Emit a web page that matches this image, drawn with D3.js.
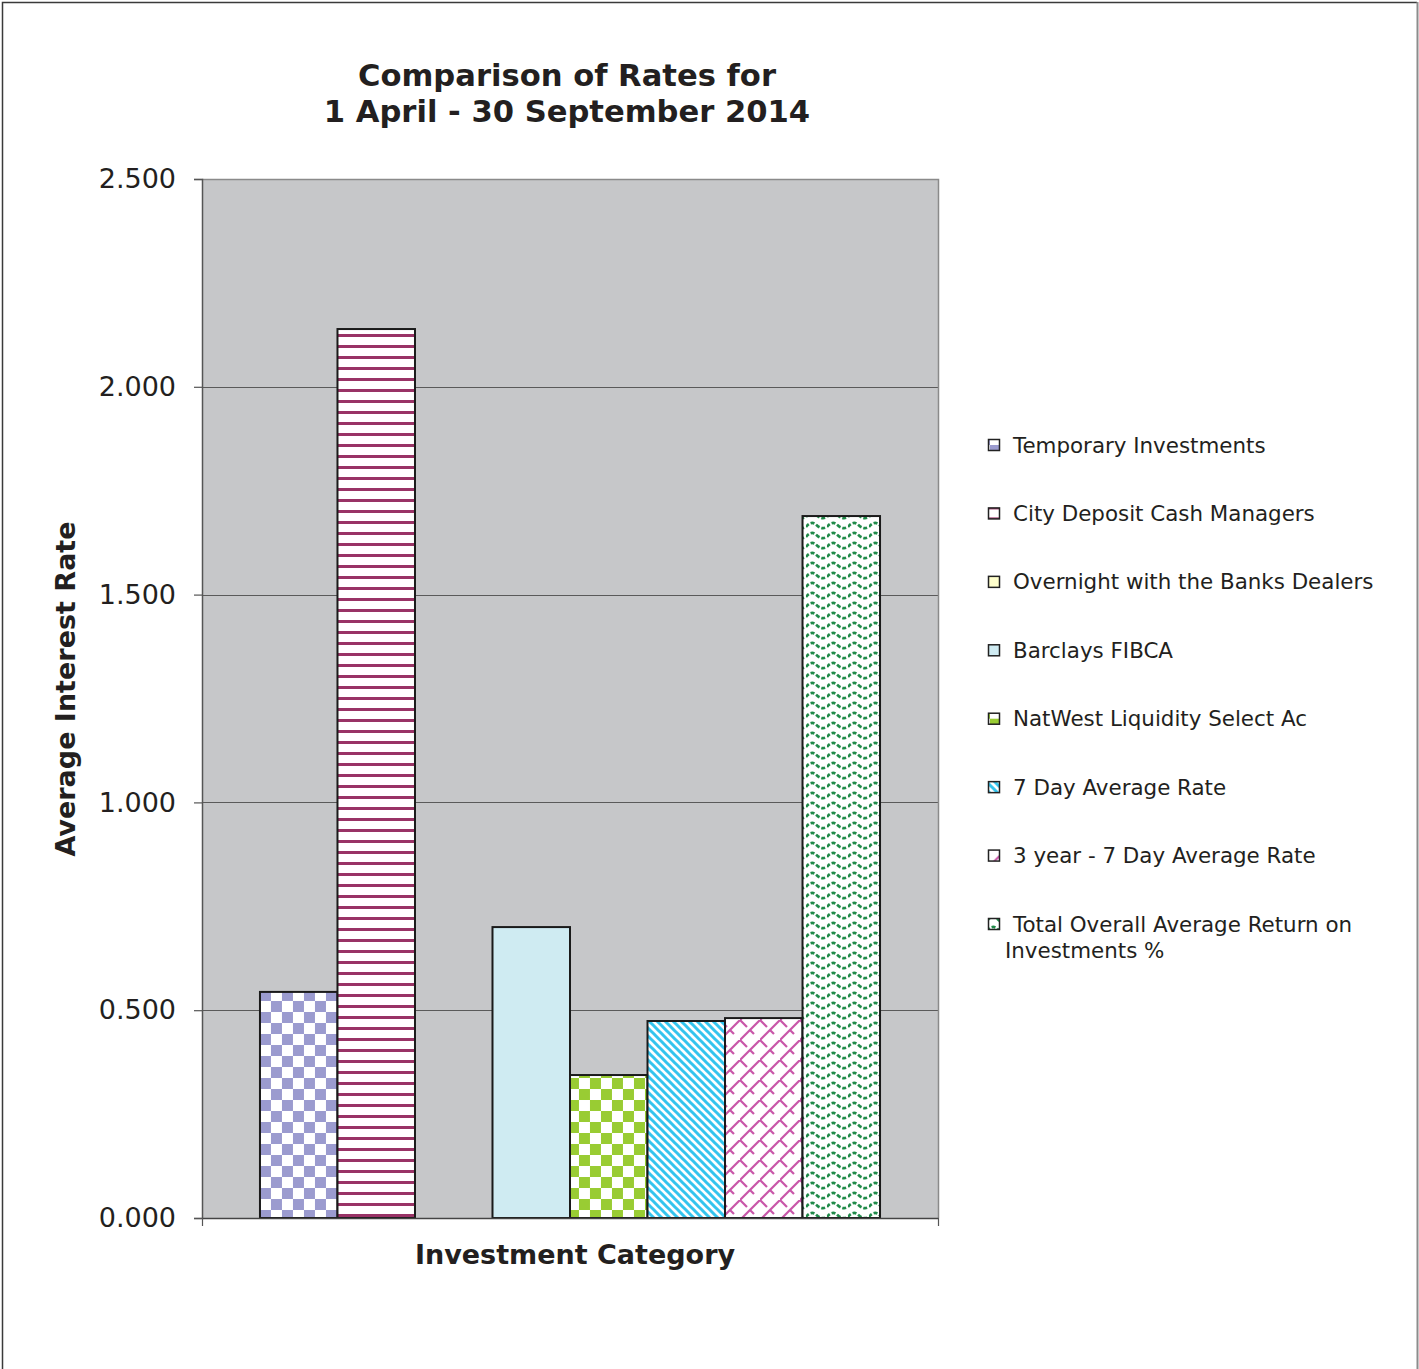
<!DOCTYPE html>
<html>
<head>
<meta charset="utf-8">
<script src="https://cdn.jsdelivr.net/npm/d3@7"></script>
<style>
  html, body { margin: 0; padding: 0; background: #fff; }
  svg { display: block; font-family: "DejaVu Sans", Verdana, sans-serif; }
</style>
</head>
<body>
<svg id="chart" width="1419" height="1369"></svg>
<script>
// Average interest rates, 1 April - 30 September 2014
const categories = [""];
const seriesNames = [
  "Temporary Investments",
  "City Deposit Cash Managers",
  "Overnight with the Banks Dealers",
  "Barclays FIBCA",
  "NatWest Liquidity Select Ac",
  "7 Day Average Rate",
  "3 year - 7 Day Average Rate",
  "Total Overall Average Return on Investments %"
];
const seriesValues = [0.544, 2.139, 0, 0.700, 0.344, 0.474, 0.481, 1.689];
const yTicks = [0, 0.5, 1.0, 1.5, 2.0, 2.5];
const legendLines = [
  ["Temporary Investments"],
  ["City Deposit Cash Managers"],
  ["Overnight with the Banks Dealers"],
  ["Barclays FIBCA"],
  ["NatWest Liquidity Select Ac"],
  ["7 Day Average Rate"],
  ["3 year - 7 Day Average Rate"],
  ["Total Overall Average Return on", "Investments %"]
];
const fills = ["url(#p-check-lav)", "url(#p-hstripe)", "#ffffcc", "#cfebf2",
               "url(#p-check-green)", "url(#p-diag)", "url(#p-shingle)", "url(#p-wave)"];

const svg = d3.select("#chart");
const defs = svg.append("defs");

// Fill patterns
function checker(id, color) {
  const p = defs.append("pattern").attr("id", id).attr("patternUnits", "userSpaceOnUse")
    .attr("width", 22).attr("height", 22);
  p.append("rect").attr("width", 22).attr("height", 22).attr("fill", "#fff");
  p.append("rect").attr("width", 11).attr("height", 11).attr("fill", color);
  p.append("rect").attr("x", 11).attr("y", 11).attr("width", 11).attr("height", 11).attr("fill", color);
}
checker("p-check-lav", "#9b9bcf");
checker("p-check-green", "#99cc33");

{
  const p = defs.append("pattern").attr("id", "p-hstripe").attr("patternUnits", "userSpaceOnUse")
    .attr("width", 11).attr("height", 11);
  p.append("rect").attr("width", 11).attr("height", 11).attr("fill", "#fff");
  p.append("rect").attr("y", 4).attr("width", 11).attr("height", 3).attr("fill", "#993366");
}
{
  const p = defs.append("pattern").attr("id", "p-diag").attr("patternUnits", "userSpaceOnUse")
    .attr("width", 8).attr("height", 8);
  p.append("rect").attr("width", 8).attr("height", 8).attr("fill", "#fff");
  p.append("path").attr("d", "M-2,-2 L10,10 M-2,6 L2,10 M6,-2 L10,2")
    .attr("stroke", "#33c4ee").attr("stroke-width", 3);
}
{
  const p = defs.append("pattern").attr("id", "p-shingle").attr("patternUnits", "userSpaceOnUse")
    .attr("width", 20).attr("height", 20);
  p.append("rect").attr("width", 20).attr("height", 20).attr("fill", "#fff");
  p.append("path").attr("d", "M-1,21 L21,-1 M0,0 L7,7 M10,10 L14,14")
    .attr("stroke", "#c855a8").attr("stroke-width", 2.2).attr("fill", "none");
}
{
  const p = defs.append("pattern").attr("id", "p-wave").attr("patternUnits", "userSpaceOnUse")
    .attr("width", 21).attr("height", 10);
  p.append("rect").attr("width", 21).attr("height", 10).attr("fill", "#fff");
  p.append("path").attr("d", "M0,7 Q5.25,0 10.5,5 T21,7")
    .attr("stroke", "#1f8a48").attr("stroke-width", 2.6).attr("fill", "none")
    .attr("stroke-dasharray", "4 2");
}

// Outer frame
svg.append("path").attr("d", "M2.5,1369 L2.5,2.5 L1417,2.5").attr("fill", "none")
  .attr("stroke", "#3a3a3a").attr("stroke-width", 1.5);
svg.append("line").attr("x1", 1417.5).attr("x2", 1417.5).attr("y1", 2).attr("y2", 1369)
  .attr("stroke", "#8c8c8c").attr("stroke-width", 2);

// Plot geometry
const plot = { left: 202, right: 938, top: 179, bottom: 1218 };

const y = d3.scaleLinear().domain([0, 2.5]).range([plot.bottom, plot.top]);
const x0 = d3.scaleBand().domain(categories).range([plot.left, plot.right])
  .paddingInner(0).paddingOuter(0.0935);
const x1 = d3.scaleBand().domain(seriesNames).range([0, x0.bandwidth()]).padding(0);

// Plot background
svg.append("rect").attr("x", plot.left).attr("y", plot.top)
  .attr("width", plot.right - plot.left).attr("height", plot.bottom - plot.top)
  .attr("fill", "#c6c7c9");

// Gridlines
svg.append("g").selectAll("line").data(yTicks.filter(d => d > 0 && d < 2.5)).join("line")
  .attr("x1", plot.left).attr("x2", plot.right)
  .attr("y1", d => Math.round(y(d)) + 0.5).attr("y2", d => Math.round(y(d)) + 0.5)
  .attr("stroke", "#5a5a5a").attr("stroke-width", 1);

// Plot border (top and right)
svg.append("path")
  .attr("d", `M${plot.left},${plot.top + 0.5} L${plot.right + 0.5},${plot.top + 0.5} L${plot.right + 0.5},${plot.bottom}`)
  .attr("fill", "none").attr("stroke", "#8a8a8a").attr("stroke-width", 1.5);

// Bars
const barG = svg.append("g").selectAll("g").data(categories).join("g")
  .attr("transform", d => `translate(${x0(d)},0)`);
barG.selectAll("rect")
  .data(() => seriesNames.map((s, i) => ({ s, v: seriesValues[i], i })).filter(d => d.v > 0))
  .join("rect")
  .attr("x", d => x1(d.s))
  .attr("y", d => y(d.v))
  .attr("width", x1.bandwidth())
  .attr("height", d => y(0) - y(d.v))
  .attr("fill", d => fills[d.i])
  .attr("stroke", "#1a1a1a").attr("stroke-width", 2);

// Y axis
const yAxis = d3.axisLeft(y).tickValues(yTicks).tickFormat(d3.format(".3f"))
  .tickSize(8).tickPadding(18);
const yg = svg.append("g").attr("transform", `translate(${plot.left},0)`).call(yAxis);
yg.select(".domain").attr("stroke", "#555").attr("stroke-width", 1.5);
yg.selectAll(".tick line").attr("stroke", "#555").attr("stroke-width", 1.2);
yg.selectAll(".tick text").attr("font-size", 27).attr("fill", "#231f20")
  .attr("font-family", "DejaVu Sans, Verdana, sans-serif");

// X axis (category boundaries only)
const xAxis = d3.axisBottom(d3.scaleLinear().domain([0, 1]).range([plot.left, plot.right]))
  .tickValues([0, 1]).tickFormat("").tickSize(8).tickSizeOuter(0);
const xg = svg.append("g").attr("transform", `translate(0,${plot.bottom})`).call(xAxis);
xg.select(".domain").attr("stroke", "#444").attr("stroke-width", 1.5);
xg.selectAll(".tick line").attr("stroke", "#555").attr("stroke-width", 1.2);

// Titles
const title = svg.append("text").attr("text-anchor", "middle").attr("font-weight", "bold")
  .attr("font-size", 30.6).attr("fill", "#231f20");
title.append("tspan").attr("x", 567).attr("y", 86).text("Comparison of Rates for");
title.append("tspan").attr("x", 567).attr("y", 122).text("1 April - 30 September 2014");

svg.append("text").attr("text-anchor", "middle").attr("font-weight", "bold")
  .attr("font-size", 27).attr("fill", "#231f20")
  .attr("transform", `translate(75,689) rotate(-90)`)
  .text("Average Interest Rate");

svg.append("text").attr("text-anchor", "middle").attr("font-weight", "bold")
  .attr("font-size", 27).attr("fill", "#231f20")
  .attr("x", 575).attr("y", 1264)
  .text("Investment Category");

// Legend
const legend = svg.append("g");
const legendY = d3.scalePoint().domain(seriesNames).range([445, 924]);
const items = legend.selectAll("g").data(seriesNames).join("g")
  .attr("transform", d => `translate(0,${legendY(d)})`);
items.append("rect").attr("x", 988.5).attr("y", -5.5).attr("width", 11).attr("height", 11)
  .attr("fill", (d, i) => fills[i]).attr("stroke", "#222").attr("stroke-width", 1.5);
items.append("text").attr("font-size", 21.4).attr("fill", "#231f20")
  .each(function(d, i) {
    const t = d3.select(this);
    legendLines[i].forEach((line, j) => {
      t.append("tspan").attr("x", j === 0 ? 1013 : 1005).attr("y", 7.5 + j * 26).text(line);
    });
  });
</script>
</body>
</html>
